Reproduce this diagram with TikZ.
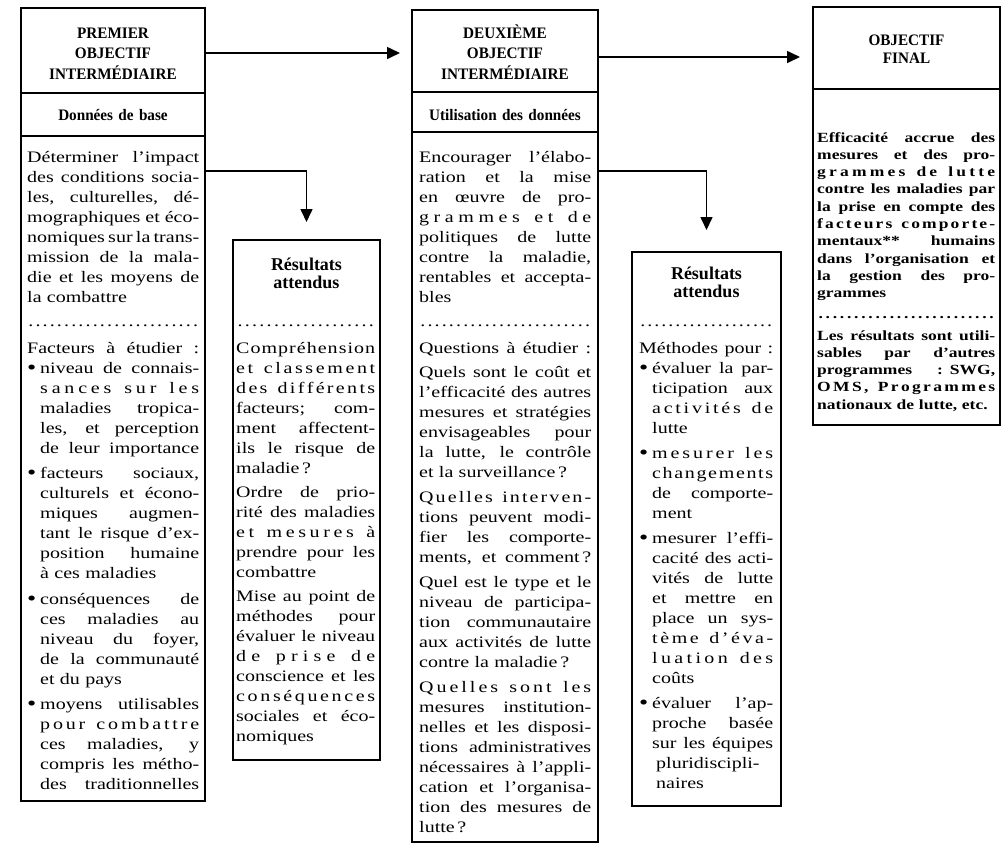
\documentclass[tikz,border=0pt]{standalone}
\usepackage{fontspec}
\usetikzlibrary{arrows.meta}
\newfontfamily\bodyf[FakeStretch=1.25]{Liberation Serif}
\newfontfamily\headf[FakeStretch=0.95]{Liberation Serif}
\newfontfamily\finf[FakeStretch=1.25]{Liberation Serif}
\newfontfamily\resf{Liberation Serif}
\newlength\bind
\setlength\bind{13pt}
\hfuzz=3pt
\newcommand\SP{\spaceskip=0.25em plus 1fil minus 0.1em\relax}
\newcommand\Bul{\hbox to \bind{\raisebox{-1pt}{\fontsize{21}{20}\selectfont\textbullet}\hss}}
\def\LSi#1{\ifx\relax#1\unskip\else#1\hskip 0pt plus 1fil\relax\expandafter\LSi\fi}
\newcommand\J[1]{\hbox to \linewidth{\SP #1}}
\newcommand\N[1]{\hbox{#1}}
\newcommand\LS[1]{\hbox to \linewidth{\LSi#1\relax}}
\newcommand\B[1]{\hbox to \linewidth{\SP\Bul#1}}
\newcommand\BL[1]{\hbox to \linewidth{\Bul\LSi#1\relax}}
\newcommand\C[1]{\hbox to \linewidth{\SP\hskip\bind #1}}
\newcommand\CN[1]{\hbox{\hskip\bind #1}}
\newcommand\CL[1]{\hbox to \linewidth{\hskip\bind\LSi#1\relax}}
\newcommand\Dots{\hbox to \linewidth{\xleaders\hbox to 7pt{\hss.\hss}\hfil}}
\tikzset{
  frame/.style={draw, line width=1.8pt, inner sep=0pt, outer sep=0pt, anchor=north west},
  arr/.style={line width=1.6pt, -{Triangle[length=13pt,width=12pt]}},
  ttl/.style={anchor=base, inner sep=0pt, text width=180pt, align=center, font=\headf\bfseries\fontsize{16}{20.5}\selectfont},
  res/.style={anchor=base, inner sep=0pt, text width=140pt, align=center, font=\resf\bfseries\fontsize{18}{18.5}\selectfont},
  bodytxt/.style={anchor=base west, inner sep=0pt, text width=#1, font=\bodyf\fontsize{16}{20}\selectfont},
  fbodytxt/.style={anchor=base west, inner sep=0pt, text width=#1, font=\finf\bfseries\fontsize{14}{17.3}\selectfont}
}
\begin{document}
\begin{tikzpicture}[x=1pt,y=-1pt]
\fill[white] (0,0) rectangle (1004,844);
\useasboundingbox (0,0) rectangle (1004,844);
% frames
\node[frame, minimum width=184pt, minimum height=85pt] (t1) at (21,8) {};
\node[frame, minimum width=184pt, minimum height=43pt] (s1) at (21,93) {};
\node[frame, minimum width=184pt, minimum height=665pt] (p1) at (21,136) {};
\node[frame, minimum width=186pt, minimum height=82pt] (t2) at (412,10) {};
\node[frame, minimum width=186pt, minimum height=40pt] (s2) at (412,92) {};
\node[frame, minimum width=186pt, minimum height=710pt] (p2) at (412,132) {};
\node[frame, minimum width=187pt, minimum height=82pt] (t3) at (813,7) {};
\node[frame, minimum width=187pt, minimum height=336pt] (p3) at (813,89) {};
\node[frame, minimum width=147pt, minimum height=520pt] (r1) at (233,240) {};
\node[frame, minimum width=149pt, minimum height=554pt] (r2) at (632,252) {};
% titles
\node[ttl] (tt1) at (113,38) {PREMIER\\OBJECTIF\\INTERMÉDIAIRE};
\node[ttl] (st1) at (113,120) {Données de base};
\node[ttl] (tt2) at (505,38) {DEUXIÈME\\OBJECTIF\\INTERMÉDIAIRE};
\node[ttl] (st2) at (505,120) {Utilisation des données};
\node[ttl] (tt3) at (906.5,45) {OBJECTIF\\[-2.5pt]FINAL};
\node[res] (rt1) at (306.5,270) {Résultats\\attendus};
\node[res] (rt2) at (706.5,279) {Résultats\\attendus};
% box 1 body
\node[bodytxt=172pt] (x1) at (27,162) {%
\J{Déterminer l’impact}
\J{des conditions socia-}
\J{les, culturelles, dé-}
\J{mographiques et éco-}
\J{nomiques sur la trans-}
\J{mission de la mala-}
\J{die et les moyens de}
\N{la combattre}
\vskip4pt\Dots\vskip7pt
\J{Facteurs à étudier :}
\B{niveau de connais-}
\CL{sances~sur~les}
\C{maladies tropica-}
\C{les, et perception}
\C{de leur importance}
\vskip5.5pt
\B{facteurs sociaux,}
\C{culturels et écono-}
\C{miques augmen-}
\C{tant le risque d’ex-}
\C{position humaine}
\CN{à ces maladies}
\vskip5.5pt
\B{conséquences de}
\C{ces maladies au}
\C{niveau du foyer,}
\C{de la communauté}
\CN{et du pays}
\vskip5.5pt
\B{moyens utilisables}
\CL{pour~combattre}
\C{ces maladies, y}
\C{compris les métho-}
\C{des traditionnelles}
};
% box 2 body
\node[bodytxt=172pt] (x2) at (419,162) {%
\J{Encourager l’élabo-}
\J{ration et la mise}
\J{en œuvre de pro-}
\LS{grammes~et~de}
\J{politiques de lutte}
\J{contre la maladie,}
\J{rentables et accepta-}
\N{bles}
\vskip4pt\Dots\vskip7pt
\J{Questions à étudier :}
\vskip4pt
\J{Quels sont le coût et}
\J{l’efficacité des autres}
\J{mesures et stratégies}
\J{envisageables pour}
\J{la lutte, le contrôle}
\N{et la surveillance\,?}
\vskip5pt
\LS{Quelles~interven-}
\J{tions peuvent modi-}
\J{fier les comporte-}
\J{ments, et comment\,?}
\vskip5pt
\J{Quel est le type et le}
\J{niveau de participa-}
\J{tion communautaire}
\J{aux activités de lutte}
\N{contre la maladie\,?}
\vskip5pt
\LS{Quelles~sont~les}
\J{mesures institution-}
\J{nelles et les disposi-}
\J{tions administratives}
\J{nécessaires à l’appli-}
\J{cation et l’organisa-}
\J{tion des mesures de}
\N{lutte\,?}
};
% results 1 body
\node[bodytxt=139pt] (y1) at (236,326) {%
\Dots\vskip7pt
\LS{Compréhension}
\LS{et~classement}
\LS{des~différents}
\J{facteurs; com-}
\J{ment affectent-}
\J{ils le risque de}
\N{maladie\,?}
\vskip4pt
\J{Ordre de prio-}
\J{rité des maladies}
\LS{et~mesures~à}
\J{prendre pour les}
\N{combattre}
\vskip4pt
\J{Mise au point de}
\J{méthodes pour}
\J{évaluer le niveau}
\LS{de~prise~de}
\J{conscience et les}
\LS{conséquences}
\J{sociales et éco-}
\N{nomiques}
};
% results 2 body
\node[bodytxt=134pt] (y2) at (639,326) {%
\Dots\vskip7pt
\J{Méthodes pour :}
\B{évaluer la par-}
\C{ticipation aux}
\CL{activités~de}
\CN{lutte}
\vskip5pt
\BL{mesurer~les}
\CL{changements}
\C{de comporte-}
\CN{ment}
\vskip5pt
\B{mesurer l’effi-}
\C{cacité des acti-}
\C{vités de lutte}
\C{et mettre en}
\C{place un sys-}
\CL{tème~d’éva-}
\CL{luation~des}
\CN{coûts}
\vskip5pt
\B{évaluer l’ap-}
\C{proche basée}
\C{sur les équipes}
\CN{\hskip4pt pluridiscipli-}
\CN{\hskip4pt naires}
};
% box 3 body
\node[fbodytxt=178pt] (x3) at (817,142) {%
\J{Efficacité accrue des}
\J{mesures et des pro-}
\LS{grammes~de~lutte}
\J{contre les maladies par}
\J{la prise en compte des}
\LS{facteurs~comporte-}
\J{mentaux** humains}
\J{dans l’organisation et}
\J{la gestion des pro-}
\N{grammes}
\vskip3pt\Dots\vskip4.7pt
\J{Les résultats sont utili-}
\J{sables par d’autres}
\J{programmes : SWG,}
\LS{OMS,~Programmes}
\N{nationaux de lutte, etc.}
};
% connectors
\coordinate (ya) at (0,53);
\coordinate (yb) at (0,57);
\coordinate (yc) at (0,171);
\draw[arr, shorten >=12pt] (t1.east |- ya) -- (t2.west |- ya);
\draw[arr, shorten >=13pt] (t2.east |- yb) -- (t3.west |- yb);
\draw[arr, shorten >=18pt] (p1.east |- yc) -| (r1.north);
\draw[arr, shorten >=22pt] (p2.east |- yc) -| (r2.north);
\end{tikzpicture}
\end{document}
